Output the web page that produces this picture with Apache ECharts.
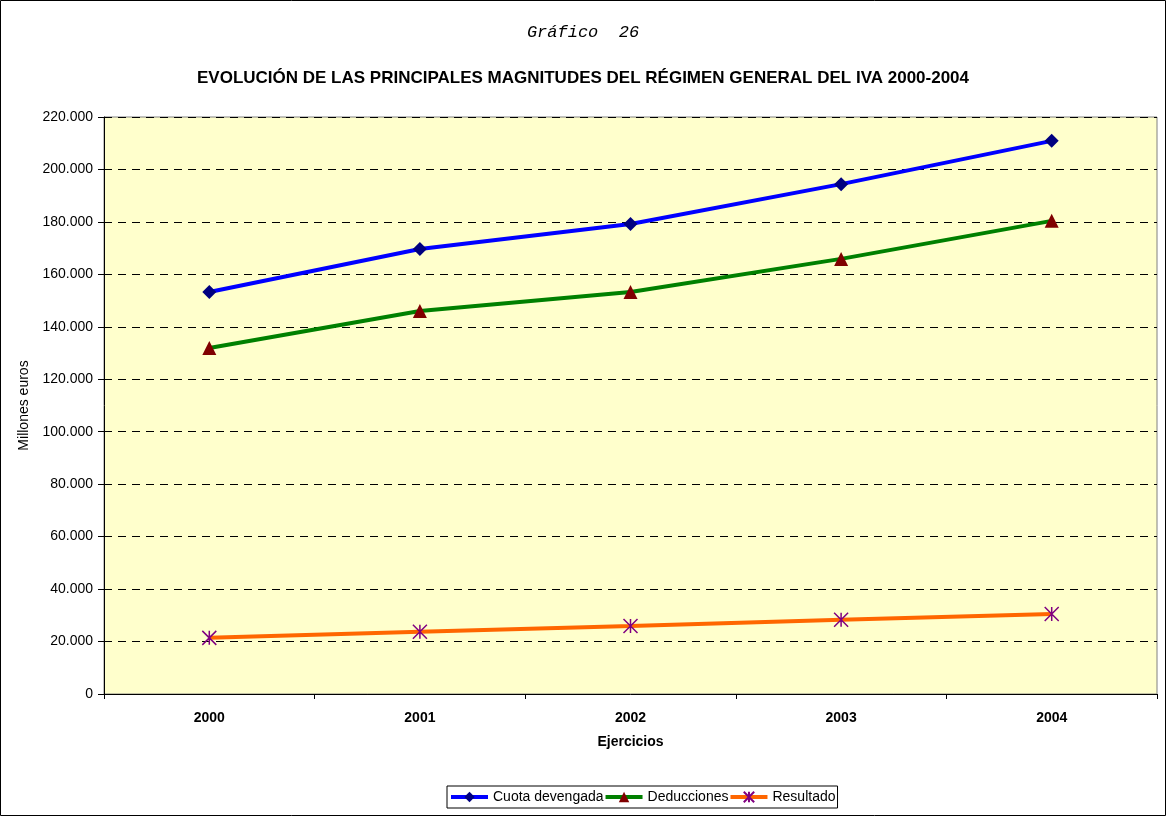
<!DOCTYPE html>
<html>
<head>
<meta charset="UTF-8">
<title>IVA 2000-2004</title>
<script type="text/javascript" src="https://cdn.jsdelivr.net/npm/echarts@6/dist/echarts.min.js"></script>
<style>
  body{margin:0;background:#fff}
</style>
</head>
<body>
<div id="main" style="width:1166px;height:816px"></div>
<script type="text/javascript">
// datos (millones de euros)
var years = ['2000', '2001', '2002', '2003', '2004'];
var cuota = [153300, 169700, 179200, 194400, 210900];
var deducciones = [131900, 146000, 153300, 165900, 180400];
var resultado = [21400, 23700, 25900, 28300, 30500];

var myEcharts = echarts.init(document.getElementById('main'));

function fmt(v) {
    return String(v).replace(/\B(?=(\d{3})+(?!\d))/g, '.');
}

var asterisk = 'path://M0,0L10,10M10,0L0,10M5,0L5,10';

option = {
    backgroundColor: '#fff',
    textStyle: { fontFamily: 'Liberation Sans, Arial, sans-serif' },
    title: [{
        text: 'Gráfico  26',
        left: 'center',
        top: 19,
        textStyle: { fontFamily: 'Liberation Mono', fontStyle: 'italic', fontWeight: 'normal', fontSize: 17, color: '#000' }
    }, {
        text: 'EVOLUCIÓN DE LAS PRINCIPALES MAGNITUDES DEL RÉGIMEN GENERAL DEL IVA 2000-2004',
        left: 'center',
        top: 65,
        textStyle: { fontFamily: 'Liberation Sans', fontWeight: 'bold', fontSize: 17, color: '#000' }
    }],
    graphic: [{
        type: 'rect',
        shape: { x: 0.5, y: 0.5, width: 1165, height: 815 },
        style: { fill: 'none', stroke: '#000', lineWidth: 1 },
        silent: true
    }],
    legend: {
        bottom: 8,
        left: 447,
        itemWidth: 37,
        itemHeight: 13,
        itemGap: 0,
        padding: [4, 2],
        borderColor: '#000',
        borderWidth: 1,
        lineStyle: { width: 4 },
        textStyle: { fontSize: 14, color: '#000' },
        data: ['Cuota devengada', 'Deducciones', 'Resultado']
    },
    grid: {
        left: 104,
        right: 9,
        top: 117,
        bottom: 122,
        show: true,
        backgroundColor: '#FFFFCC',
        borderColor: '#808080',
        borderWidth: 1
    },
    xAxis: {
        type: 'category',
        data: years,
        boundaryGap: true,
        name: 'Ejercicios',
        nameLocation: 'middle',
        nameGap: 41,
        nameTextStyle: { fontWeight: 'bold', fontSize: 14, color: '#000' },
        axisLine: { lineStyle: { color: '#000' } },
        axisTick: { show: true, alignWithLabel: false, length: 5, lineStyle: { color: '#000' } },
        axisLabel: { fontWeight: 'bold', fontSize: 14, color: '#000', margin: 17 }
    },
    yAxis: {
        type: 'value',
        min: 0,
        max: 220000,
        interval: 20000,
        name: 'Millones euros',
        nameLocation: 'middle',
        nameGap: 67,
        nameTextStyle: { fontSize: 14, color: '#000' },
        axisLine: { show: true, lineStyle: { color: '#000' } },
        axisTick: { show: true, length: 6, lineStyle: { color: '#000' } },
        axisLabel: { fontSize: 14, color: '#000', margin: 11, formatter: fmt },
        splitLine: { show: true, lineStyle: { color: '#000', type: [8, 6], width: 1 } }
    },
    series: [{
        name: 'Cuota devengada',
        type: 'line',
        data: cuota,
        symbol: 'diamond',
        symbolSize: 14,
        lineStyle: { color: '#0000FF', width: 4 },
        itemStyle: { color: '#000080' },
        z: 3
    }, {
        name: 'Deducciones',
        type: 'line',
        data: deducciones,
        symbol: 'triangle',
        symbolSize: 14,
        lineStyle: { color: '#008000', width: 4 },
        itemStyle: { color: '#800000' },
        z: 3
    }, {
        name: 'Resultado',
        type: 'line',
        data: resultado,
        symbol: asterisk,
        symbolSize: 14,
        lineStyle: { color: '#FF6600', width: 4 },
        itemStyle: { color: 'rgba(0,0,0,0)', borderColor: '#800080', borderWidth: 1.5 },
        z: 3
    }]
};
myEcharts.setOption(option);
</script>
</body>
</html>
